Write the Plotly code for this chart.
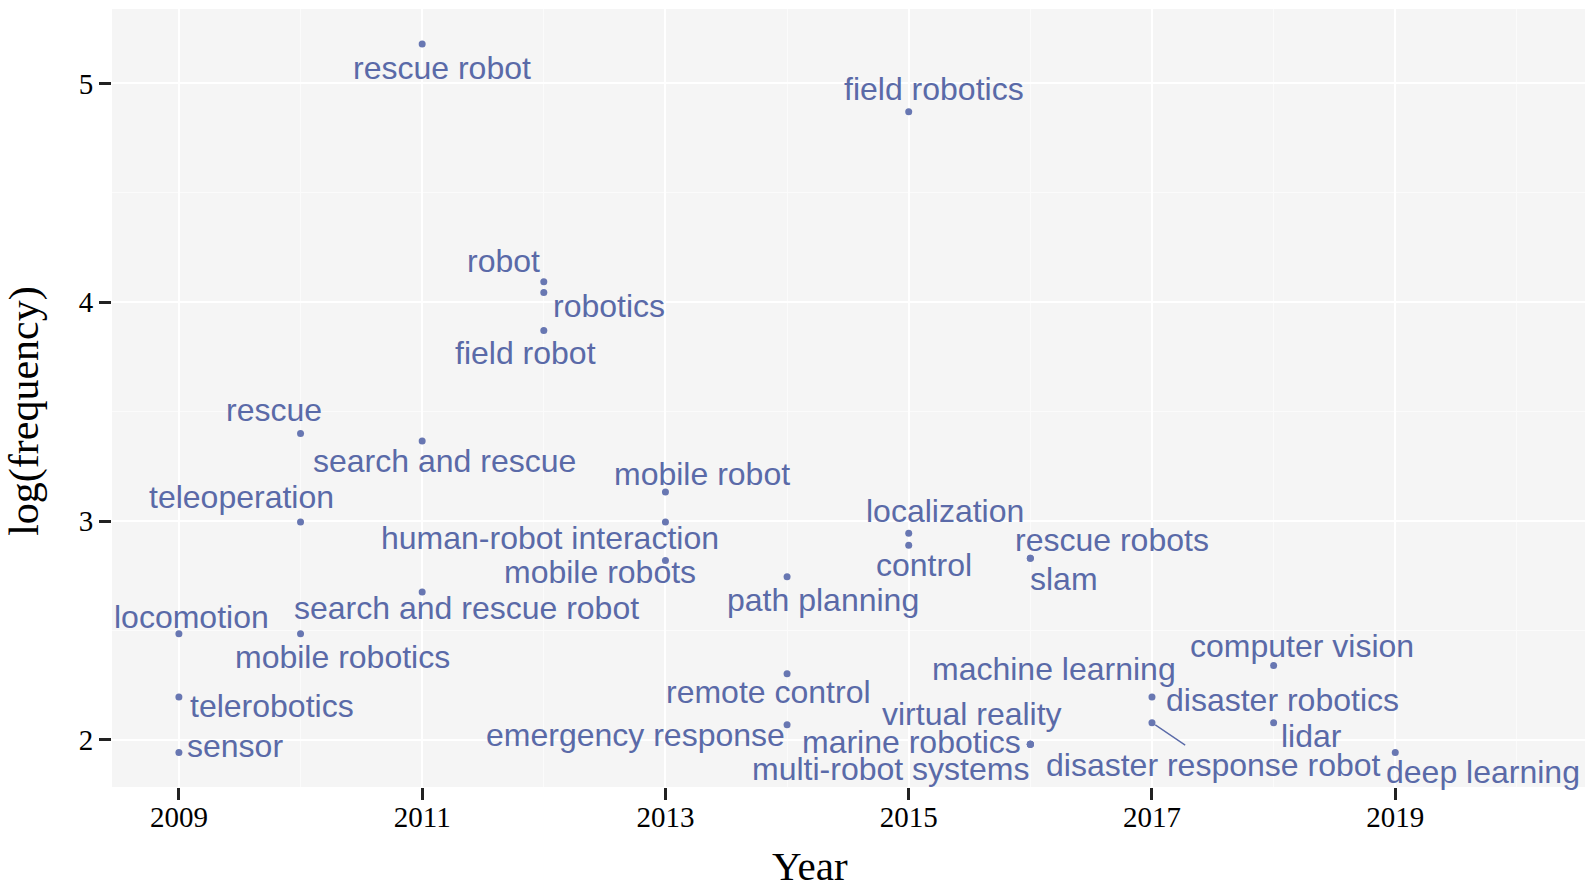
import plotly.graph_objects as go

# ---- data ----
keywords = ["rescue robot", "field robotics", "robot", "robotics", "field robot",
            "rescue", "search and rescue", "teleoperation", "mobile robot",
            "human-robot interaction", "mobile robots", "localization", "control",
            "rescue robots", "slam", "path planning", "search and rescue robot",
            "locomotion", "mobile robotics", "telerobotics", "sensor",
            "remote control", "emergency response", "virtual reality",
            "marine robotics", "multi-robot systems", "machine learning",
            "computer vision", "disaster robotics", "disaster response robot",
            "lidar", "deep learning"]
years = [2011, 2015, 2012, 2012, 2012,
         2010, 2011, 2010, 2013,
         2013, 2013, 2015, 2015,
         2016, 2016, 2014, 2011,
         2009, 2010, 2009, 2009,
         2014, 2014, 2016,
         2016, 2016, 2016,
         2018, 2017, 2017,
         2018, 2019]
log_freq = [5.18, 4.87, 4.094, 4.045, 3.871,
            3.40, 3.366, 2.996, 3.133,
            2.996, 2.82, 2.944, 2.89,
            2.83, 2.83, 2.746, 2.676,
            2.485, 2.485, 2.196, 1.943,
            2.302, 2.07, 1.98,
            1.98, 1.98, 1.98,
            2.34, 2.196, 2.079,
            2.079, 1.943]
x_ticks = [2009, 2011, 2013, 2015, 2017, 2019]
y_ticks = [2, 3, 4, 5]
x_title = "Year"
y_title = "log(frequency)"

# ---- label placement (pixel offsets from each point, ggrepel-like) ----
label_shift = {
    "rescue robot": (20, -24), "field robotics": (25, 23), "robot": (-40, 21),
    "robotics": (65, -14), "field robot": (-18, -23), "rescue": (-27, 24),
    "search and rescue": (22, -20), "teleoperation": (-59, 25),
    "mobile robot": (37, 18), "human-robot interaction": (-115, -16),
    "mobile robots": (-65, -12), "localization": (36, 22), "control": (15, -20),
    "rescue robots": (82, 18), "slam": (34, -21), "path planning": (36, -23),
    "search and rescue robot": (44, -16), "locomotion": (13, 17),
    "mobile robotics": (42, -23), "telerobotics": (93, -9), "sensor": (56, 6),
    "remote control": (-19, -18), "emergency response": (-152, -10),
    "virtual reality": (-58, 30), "marine robotics": (-119, 2),
    "multi-robot systems": (-140, -25), "machine learning": (24, 75),
    "computer vision": (28, 20), "disaster robotics": (131, -3),
    "lidar": (38, -13), "deep learning": (88, -20),
}
segment_labels = {"disaster response robot": (62, 42)}

TXT = "#5A6AA8"
PT = "#6877B2"
LABEL_FONT = dict(family="Liberation Sans, Arial, sans-serif", size=32, color=TXT)
SERIF = "Liberation Serif, Times New Roman, serif"

fig = go.Figure()
fig.add_trace(go.Scatter(
    x=years, y=log_freq, mode="markers",
    marker=dict(size=7, color=PT), hoverinfo="text", text=keywords,
    showlegend=False))

annotations = []
for k, xv, yv in zip(keywords, years, log_freq):
    if k in segment_labels:
        ax, ay = segment_labels[k]
        annotations.append(dict(x=xv, y=yv, xref="x", yref="y", text=k,
                                showarrow=True, arrowhead=0, arrowwidth=1.3,
                                arrowcolor=TXT, ax=ax, ay=ay, standoff=4,
                                font=LABEL_FONT))
    else:
        dx, dy = label_shift[k]
        annotations.append(dict(x=xv, y=yv, xref="x", yref="y", text=k,
                                showarrow=False, xshift=dx, yshift=dy,
                                font=LABEL_FONT))

# axis titles
annotations.append(dict(x=0.474, y=-0.101, xref="paper", yref="paper",
                        text=x_title, showarrow=False, xanchor="center",
                        yanchor="middle",
                        font=dict(family=SERIF, size=41, color="black")))
annotations.append(dict(x=-0.0595, y=0.484, xref="paper", yref="paper",
                        text=y_title, showarrow=False, textangle=-90,
                        xanchor="center", yanchor="middle",
                        font=dict(family=SERIF, size=42, color="black")))

fig.update_layout(
    width=1594, height=887, autosize=False,
    margin=dict(l=112, r=9, t=9, b=100, autoexpand=False),
    paper_bgcolor="white", plot_bgcolor="#F5F5F5",
    annotations=annotations,
    xaxis=dict(range=[2008.45, 2020.56], tickvals=x_ticks,
               ticktext=[str(v) for v in x_ticks], automargin=False,
               showgrid=True, gridcolor="white", gridwidth=1.6,
               minor=dict(dtick=1, tick0=2009, showgrid=True,
                          gridcolor="#FBFBFB", gridwidth=1),
               zeroline=False, showline=False,
               ticks="outside", ticklen=12, tickwidth=3, tickcolor="#222222",
               ticklabelstandoff=-8,
               tickfont=dict(family=SERIF, size=29, color="black")),
    yaxis=dict(range=[1.785, 5.34], tickvals=y_ticks,
               ticktext=[str(v) for v in y_ticks], automargin=False,
               showgrid=True, gridcolor="white", gridwidth=1.6,
               minor=dict(dtick=0.5, tick0=2, showgrid=True,
                          gridcolor="#FBFBFB", gridwidth=1),
               zeroline=False, showline=False,
               ticks="outside", ticklen=12, tickwidth=3, tickcolor="#222222",
               tickfont=dict(family=SERIF, size=29, color="black")),
)

# remove the browser's default 8px body margin so the figure fills the window
fig.write_html("out.html", config={"displayModeBar": False},
               post_script="document.body.style.margin='0';"
                           "document.body.style.overflow='hidden';")
